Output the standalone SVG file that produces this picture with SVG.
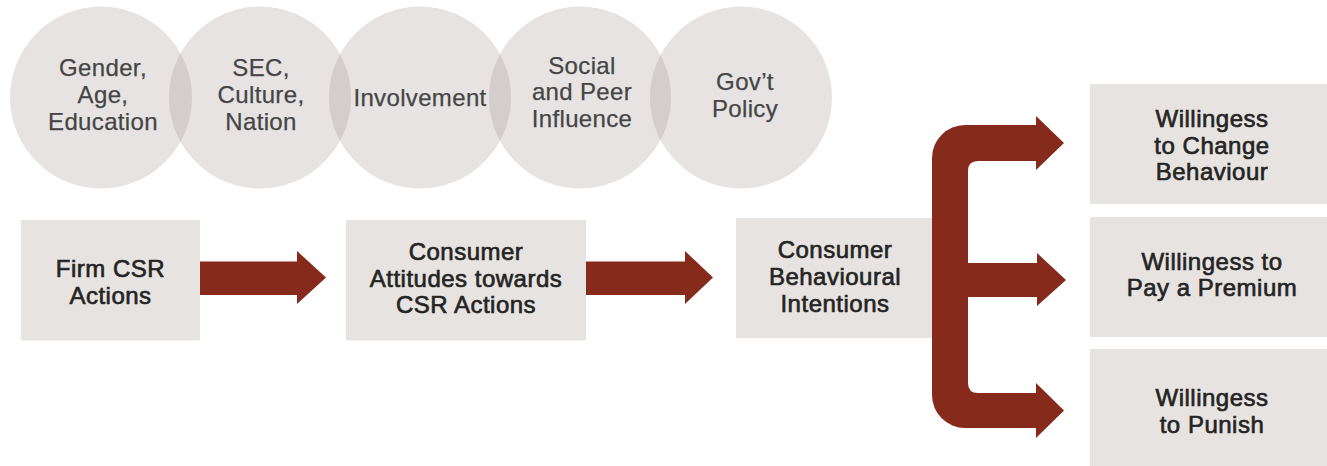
<svg xmlns="http://www.w3.org/2000/svg" width="1327" height="466" viewBox="0 0 1327 466">
  <style>
    .circ { fill: #9c918a; fill-opacity: 0.25; }
    .ctxt { font-family: "Liberation Sans", Arial, sans-serif; font-size: 24px; letter-spacing: 0.35px; fill: #454545; stroke: #454545; stroke-width: 0.25; text-anchor: middle; }
    .box { fill: #e7e3e0; }
    .btxt { font-family: "Liberation Sans", Arial, sans-serif; font-size: 24px; letter-spacing: 0.5px; fill: #242424; stroke: #242424; stroke-width: 0.65; text-anchor: middle; }
    .arrow { fill: #862a1c; }
  </style>
  <rect width="1327" height="466" fill="#ffffff"/>

  <g id="factor-demographics">
    <circle class="circ" cx="101" cy="97.5" r="91"/>
    <text class="ctxt"><tspan x="103" y="75.5">Gender,</tspan><tspan x="103" y="102.5">Age,</tspan><tspan x="103" y="129.5">Education</tspan></text>
  </g>
  <g id="factor-sec">
    <circle class="circ" cx="260" cy="97.5" r="91"/>
    <text class="ctxt"><tspan x="261" y="75.5">SEC,</tspan><tspan x="261" y="102.5">Culture,</tspan><tspan x="261" y="129.5">Nation</tspan></text>
  </g>
  <g id="factor-involvement">
    <circle class="circ" cx="420" cy="97.5" r="91"/>
    <text class="ctxt" x="420" y="106">Involvement</text>
  </g>
  <g id="factor-social">
    <circle class="circ" cx="580" cy="97.5" r="91"/>
    <text class="ctxt"><tspan x="582" y="73.5">Social</tspan><tspan x="582" y="100">and Peer</tspan><tspan x="582" y="127">Influence</tspan></text>
  </g>
  <g id="factor-policy">
    <circle class="circ" cx="741" cy="97.5" r="91"/>
    <text class="ctxt"><tspan x="745" y="90">Gov’t</tspan><tspan x="745" y="116.5">Policy</tspan></text>
  </g>

  <g id="node-firm-csr">
    <rect class="box" x="21" y="220" width="179" height="120.5"/>
    <text class="btxt"><tspan x="110.5" y="276.5">Firm CSR</tspan><tspan x="110.5" y="303.5">Actions</tspan></text>
  </g>
  <g id="node-attitudes">
    <rect class="box" x="346" y="220" width="240" height="120.5"/>
    <text class="btxt"><tspan x="466" y="260">Consumer</tspan><tspan x="466" y="286.5">Attitudes towards</tspan><tspan x="466" y="313">CSR Actions</tspan></text>
  </g>
  <g id="node-intentions">
    <rect class="box" x="736" y="218" width="198" height="120"/>
    <text class="btxt"><tspan x="835" y="257.5">Consumer</tspan><tspan x="835" y="284.5">Behavioural</tspan><tspan x="835" y="311.5">Intentions</tspan></text>
  </g>
  <g id="node-change">
    <rect class="box" x="1090" y="84" width="244" height="120"/>
    <text class="btxt"><tspan x="1212" y="127">Willingess</tspan><tspan x="1212" y="153.5">to Change</tspan><tspan x="1212" y="180">Behaviour</tspan></text>
  </g>
  <g id="node-premium">
    <rect class="box" x="1090" y="217" width="244" height="120"/>
    <text class="btxt"><tspan x="1212" y="269.5">Willingess to</tspan><tspan x="1212" y="296">Pay a Premium</tspan></text>
  </g>
  <g id="node-punish">
    <rect class="box" x="1090" y="349" width="244" height="117"/>
    <text class="btxt"><tspan x="1212" y="406">Willingess</tspan><tspan x="1212" y="432.5">to Punish</tspan></text>
  </g>

  <g id="connectors">
    <path class="arrow" d="M200 261.5 L297 261.5 L297 251 L326 277.5 L297 304 L297 295 L200 295 Z"/>
    <path class="arrow" d="M586 261.5 L685 261.5 L685 251 L713 277.5 L685 304 L685 295 L586 295 Z"/>
    <path class="arrow" d="M1036 125 L1036 116 L1064 143 L1036 170 L1036 161 L978 161 Q968 161 968 171 L968 263 L1037 263 L1037 253 L1066 280 L1037 306 L1037 297 L968 297 L968 383 Q968 393 978 393 L1036 393 L1036 383 L1064 410.5 L1036 438 L1036 428 L965 428 A33 33 0 0 1 932 395 L932 158 A33 33 0 0 1 965 125 Z"/>
  </g>
</svg>
